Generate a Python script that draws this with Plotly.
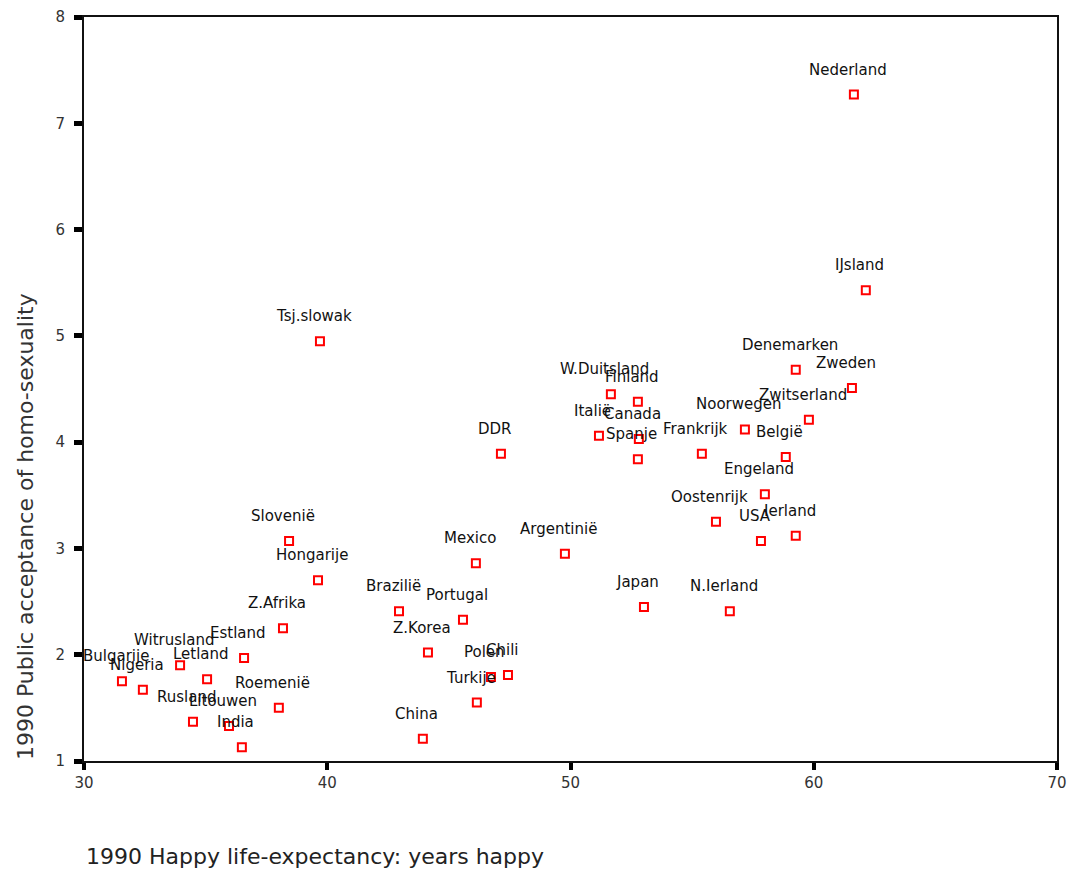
import plotly.graph_objects as go

countries = ["Nederland", "IJsland", "Denemarken", "Zweden", "Zwitserland", "Noorwegen",
             "België", "Engeland", "Oostenrijk", "USA", "Ierland", "N.Ierland", "Japan",
             "Frankrijk", "W.Duitsland", "Finland", "Italië", "Canada", "Spanje",
             "Argentinië", "DDR", "Tsj.slowak", "Mexico", "Brazilië", "Portugal",
             "Z.Korea", "Polen", "Chili", "Turkije", "China", "Slovenië", "Hongarije",
             "Z.Afrika", "Estland", "Witrusland", "Letland", "Bulgarije", "Nigeria",
             "Roemenië", "Rusland", "Litouwen", "India"]

happy_life_exp = [61.65, 62.14, 59.26, 61.57, 59.80, 57.17,
                  58.85, 57.99, 55.98, 57.83, 59.26, 56.55, 53.02,
                  55.40, 51.66, 52.77, 51.17, 52.81, 52.77,
                  49.77, 47.14, 39.70, 46.11, 42.95, 45.58,
                  44.14, 46.73, 47.43, 46.15, 43.93, 38.43, 39.62,
                  38.18, 36.58, 33.95, 35.06, 31.56, 32.42,
                  38.01, 34.48, 35.96, 36.49]

acceptance = [7.27, 5.43, 4.68, 4.51, 4.21, 4.12,
              3.86, 3.51, 3.25, 3.07, 3.12, 2.41, 2.45,
              3.89, 4.45, 4.38, 4.06, 4.03, 3.84,
              2.95, 3.89, 4.95, 2.86, 2.41, 2.33,
              2.02, 1.79, 1.81, 1.55, 1.21, 3.07, 2.70,
              2.25, 1.97, 1.90, 1.77, 1.75, 1.67,
              1.50, 1.37, 1.33, 1.13]

x_ticks = [30, 40, 50, 60, 70]
y_ticks = [1, 2, 3, 4, 5, 6, 7, 8]

x_title = "1990 Happy life-expectancy: years happy"
y_title = "1990 Public acceptance of homo-sexuality"

W, H = 1068, 875
ML, MR, MT = 84, 11, 17
bottom_px = 761
MB = H - bottom_px
plot_w = W - ML - MR
plot_h = H - MT - MB

FONT = "DejaVu Sans, Verdana, sans-serif"

fig = go.Figure()
fig.add_trace(go.Scatter(
    x=happy_life_exp, y=acceptance, mode="markers",
    marker=dict(symbol="square-open", size=8, color="#ff0000",
                line=dict(width=2, color="#ff0000")),
    hoverinfo="text", text=countries, showlegend=False,
))

annotations = []
for name, xv, yv in zip(countries, happy_life_exp, acceptance):
    annotations.append(dict(
        x=xv, y=yv, xref="x", yref="y", text=name, showarrow=False,
        xshift=-6, yshift=25,
        font=dict(family=FONT, size=15, color="#111111"),
    ))

annotations.append(dict(
    x=0.0, y=-(857 - bottom_px) / plot_h, xref="paper", yref="paper",
    text=x_title, showarrow=False, xanchor="left", yanchor="middle",
    font=dict(family=FONT, size=22, color="#222222"),
))
annotations.append(dict(
    x=(25 - ML) / plot_w, y=(bottom_px - 527) / plot_h,
    xref="paper", yref="paper",
    text=y_title, showarrow=False, xanchor="center", yanchor="middle", textangle=-90,
    font=dict(family=FONT, size=22, color="#333333"),
))

axis_font = dict(family=FONT, size=15, color="#333333")

fig.update_layout(
    width=W, height=H,
    margin=dict(l=ML, r=MR, t=MT, b=MB, autoexpand=False),
    paper_bgcolor="white", plot_bgcolor="white",
    annotations=annotations,
    xaxis=dict(range=[30, 70], tickvals=x_ticks, ticktext=[str(v) for v in x_ticks],
               showgrid=False, zeroline=False, showline=True, mirror=True,
               linecolor="#111111", linewidth=2, ticks="outside", ticklen=7,
               tickwidth=4, tickcolor="#000000", tickfont=axis_font, automargin=False,
               ticklabeloverflow="allow"),
    yaxis=dict(range=[1, 8], tickvals=y_ticks, ticktext=[str(v) for v in y_ticks],
               showgrid=False, zeroline=False, showline=True, mirror=True,
               linecolor="#111111", linewidth=2, ticks="outside", ticklen=8,
               tickwidth=5, tickcolor="#000000", tickfont=axis_font,
               ticklabelstandoff=6, automargin=False, ticklabeloverflow="allow"),
)

fig.write_html(
    "out.html",
    config={"displayModeBar": False},
    post_script="document.body.style.margin='0';document.body.style.overflow='hidden';",
)
